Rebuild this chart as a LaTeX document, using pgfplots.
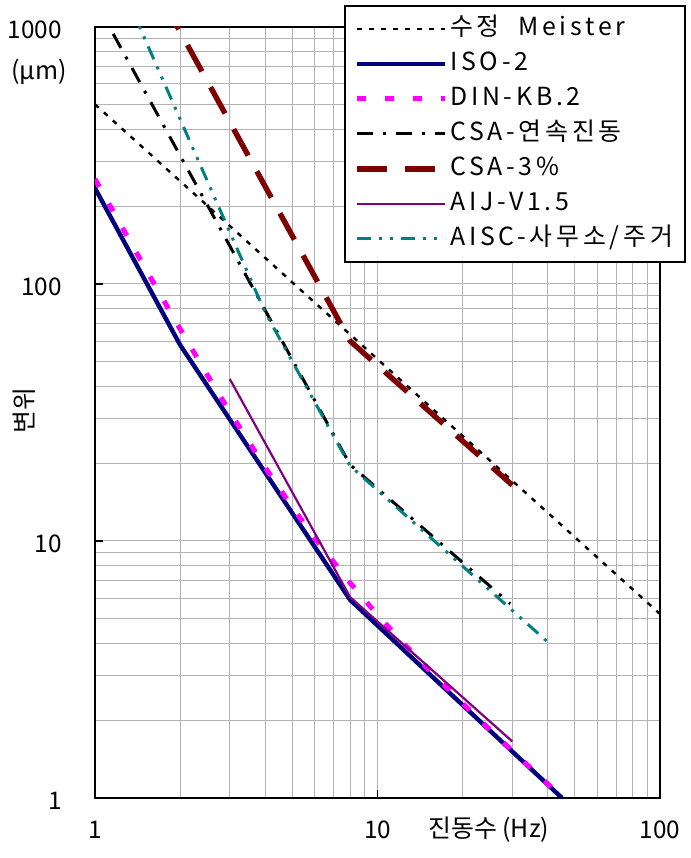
\documentclass[border=0pt]{standalone}
\usepackage{fontspec}
\setmainfont{Noto Sans CJK KR}
\newfontfamily\legfont[LetterSpace=15]{Noto Sans CJK KR}
\usepackage{pgfplots}
\pgfplotsset{compat=1.18}
\definecolor{isoc}{RGB}{0,0,128}
\definecolor{dinc}{RGB}{255,0,255}
\definecolor{csac}{RGB}{128,0,0}
\definecolor{aijc}{RGB}{128,0,128}
\definecolor{aiscc}{RGB}{0,128,128}
\begin{document}
\fontsize{12.5}{15}\selectfont
\begin{tikzpicture}
\begin{axis}[
  scale only axis, width=282.5bp, height=385.5bp,
  at={(0,0)}, anchor=south west,
  xmode=log, ymode=log, xmin=1, xmax=100, ymin=1, ymax=1000,
  xtick={1,10,100}, xticklabels={1,10,100},
  ytick={1,10,100,1000}, yticklabels={1,10,100,1000},
  grid=both,
  major grid style={draw=gray!60, line width=0.5bp},
  minor grid style={draw=gray!60, line width=0.5bp},
  tick align=inside, major tick length=4bp, minor tick length=0pt,
  xtick pos=bottom, ytick pos=left,
  axis line style={line width=0.8bp},
  every tick/.style={black, line width=0.8bp},
  tick label style={font=\fontsize{12.2}{15}\selectfont},
  yticklabel style={anchor=east, inner sep=0pt, xshift=-16.5bp, yshift=-1.5bp},
  xticklabel style={anchor=center, inner sep=0pt, yshift=-16bp},
  every axis y label/.style={at={(rel axis cs:0,0.502)}, xshift=-35.5bp, rotate=90, anchor=center},
  every axis x label/.style={at={(rel axis cs:0.697,0)}, yshift=-16bp, anchor=center},
  xlabel={진동수 (Hz)}, ylabel={변위},
  legend style={at={(0.4407,1.0285)}, anchor=north west, draw=black, line width=0.8bp, fill=white,
    inner xsep=4.5bp, inner ysep=4bp, row sep=2.5bp,
    nodes={inner sep=1.5bp, text height=9.5bp, text depth=2.5bp, anchor=west},
    font=\legfont\fontsize{12.5}{15}\selectfont},
  legend cell align=left,
  legend image code/.code={\draw[#1] (0bp,0bp) -- (44bp,0bp);},
]
\addplot[black, line width=1.2bp, dash pattern=on 2.5bp off 3.5bp] coordinates {(1,500) (100,5.2)};
\addlegendentry{수정\ \ Meister}
\addplot[isoc, line width=2.2bp] coordinates {(1,236) (2,58) (8,5.9) (45,1)};
\addlegendentry{ISO-2}
\addplot[dinc, line width=2.5bp, dash pattern=on 4.5bp off 9.5bp] coordinates {
(1,256.1) (1.5,116.0) (2,66.92) (2.5,44.17) (3,31.78) (4,19.36) (5,13.52) (6,10.26) (8,6.869)
(10,5.159) (12,4.140) (15,3.203) (20,2.337) (25,1.845) (30,1.526) (35,1.3025) (40,1.136) (45,1.008)};
\addlegendentry{DIN-KB.2}
\addplot[black, line width=1.5bp, dash pattern=on 8bp off 5bp on 1.5bp off 5bp] coordinates {(1.16,940) (8,19.8) (29.5,5.7)};
\addlegendentry{CSA-연속진동}
\addplot[csac, line width=2.7bp, dash pattern=on 15bp off 9bp] coordinates {(1,3840) (8,60) (30,16.5)};
\addlegendentry{CSA-3\%}
\addplot[aijc, line width=1.1bp] coordinates {(3,42.7) (8,6.05) (30,1.66)};
\addlegendentry{AIJ-V1.5}
\addplot[aiscc, line width=1.5bp, dash pattern=on 7bp off 4bp on 1.5bp off 4bp on 1.5bp off 4bp] coordinates {(1,2480) (4,77.6) (8,19.6) (40,4.05)};
\addlegendentry{AISC-사무소/주거}
\end{axis}
\node[anchor=center] at (-28bp,363bp) {(µm)};
\pgfresetboundingbox
\path[use as bounding box] (-47.5bp,-30bp) rectangle (298bp,399bp);
\end{tikzpicture}
\end{document}
